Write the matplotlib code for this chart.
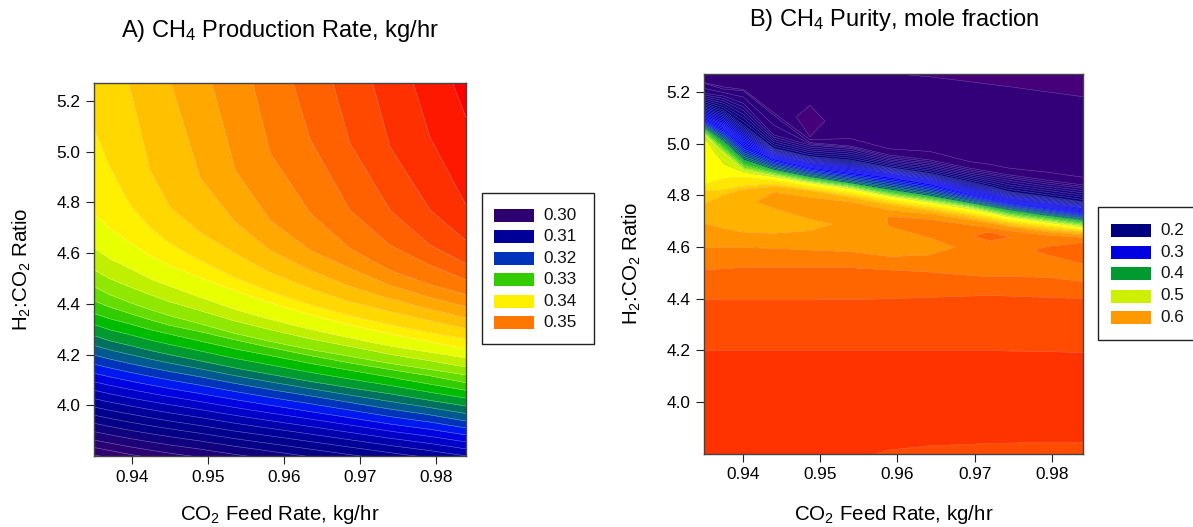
import matplotlib
matplotlib.use('Agg')
import matplotlib.pyplot as plt
from matplotlib.patches import Rectangle
import numpy as np

plt.rcParams['font.family'] = ['Liberation Sans', 'DejaVu Sans']
plt.rcParams['mathtext.default'] = 'regular'

W, H = 1193, 527

# Panel A: ratio where each rate level crosses a feed rate column
feed_a = [0.935, 0.9371, 0.9398, 0.9424, 0.945, 0.949, 0.9536, 0.9582, 0.9635, 0.9687, 0.974, 0.9793, 0.984]
rate_a = [.37, .36, .358, .356, .354, .352, .35, .348, .346, .344, .342, .34, .338, .336, .334, .332, .33,
          .326, .322, .318, .314, .31, .306, .302, .298, .295]
ratio_a = [
    [8.0] * 13,
    [7.021, 6.942, 6.863, 6.784, 6.705, 6.626, 6.468, 6.230, 6.072, 5.914, 5.756, 5.503, 5.132],
    [6.863, 6.784, 6.705, 6.626, 6.547, 6.468, 6.309, 6.072, 5.914, 5.756, 5.558, 5.053, 4.788],
    [6.705, 6.626, 6.547, 6.468, 6.388, 6.309, 6.151, 5.914, 5.756, 5.598, 5.017, 4.768, 4.649],
    [6.547, 6.468, 6.388, 6.309, 6.230, 6.151, 5.993, 5.756, 5.582, 5.033, 4.768, 4.630, 4.558],
    [6.388, 6.309, 6.230, 6.151, 6.072, 5.993, 5.835, 5.566, 5.045, 4.768, 4.630, 4.551, 4.495],
    [6.230, 6.151, 6.072, 5.993, 5.914, 5.796, 5.551, 4.993, 4.756, 4.618, 4.531, 4.475, 4.436],
    [6.072, 5.993, 5.914, 5.835, 5.717, 5.440, 4.926, 4.728, 4.610, 4.539, 4.472, 4.424, 4.388],
    [5.914, 5.796, 5.717, 5.543, 5.282, 4.894, 4.721, 4.610, 4.531, 4.468, 4.420, 4.377, 4.345],
    [5.756, 5.566, 5.242, 4.926, 4.780, 4.681, 4.598, 4.523, 4.460, 4.408, 4.369, 4.333, 4.302],
    [5.092, 4.938, 4.788, 4.701, 4.638, 4.570, 4.503, 4.448, 4.396, 4.353, 4.317, 4.286, 4.262],
    [4.756, 4.697, 4.641, 4.590, 4.551, 4.503, 4.452, 4.404, 4.357, 4.317, 4.282, 4.250, 4.222],
    [4.622, 4.578, 4.539, 4.499, 4.470, 4.426, 4.378, 4.339, 4.300, 4.266, 4.234, 4.209, 4.187],
    [4.535, 4.499, 4.466, 4.436, 4.408, 4.373, 4.332, 4.298, 4.262, 4.232, 4.201, 4.175, 4.151],
    [4.468, 4.436, 4.404, 4.377, 4.353, 4.321, 4.283, 4.252, 4.220, 4.193, 4.165, 4.141, 4.120],
    [4.412, 4.387, 4.361, 4.337, 4.315, 4.290, 4.258, 4.228, 4.196, 4.167, 4.141, 4.116, 4.089],
    [4.362, 4.341, 4.320, 4.298, 4.280, 4.253, 4.222, 4.196, 4.165, 4.138, 4.111, 4.083, 4.059],
    [4.274, 4.254, 4.235, 4.216, 4.199, 4.175, 4.147, 4.122, 4.094, 4.069, 4.045, 4.019, 3.997],
    [4.198, 4.182, 4.164, 4.148, 4.133, 4.112, 4.086, 4.062, 4.037, 4.011, 3.985, 3.962, 3.938],
    [4.126, 4.112, 4.095, 4.080, 4.066, 4.046, 4.022, 4.000, 3.975, 3.951, 3.926, 3.905, 3.883],
    [4.059, 4.045, 4.029, 4.015, 4.002, 3.983, 3.960, 3.939, 3.916, 3.893, 3.870, 3.849, 3.828],
    [3.993, 3.980, 3.965, 3.951, 3.938, 3.920, 3.898, 3.879, 3.857, 3.835, 3.813, 3.793, 3.773],
    [3.929, 3.916, 3.901, 3.888, 3.876, 3.859, 3.838, 3.819, 3.797, 3.776, 3.755, 3.735, 3.717],
    [3.863, 3.851, 3.836, 3.823, 3.811, 3.795, 3.774, 3.756, 3.736, 3.715, 3.694, 3.676, 3.657],
    [3.804, 3.792, 3.776, 3.764, 3.752, 3.736, 3.715, 3.697, 3.677, 3.656, 3.635, 3.617, 3.598],
    [3.55] * 13,
]
levels_a = np.arange(0.294, 0.3621, 0.002)
colors_a = ['#36006e', '#36006e', '#30006f', '#2b0073', '#1e0078', '#10007e', '#050085', '#00008c',
            '#000098', '#0000ad', '#0000c6', '#0000e0', '#0018f0', '#0033bb', '#005a90',
            '#007060', '#009a30', '#00bc00', '#33cc00', '#66dd00', '#90e800', '#c0f000',
            '#e8ff00', '#fff000', '#ffd800', '#ffc000', '#ffa800', '#ff9000', '#ff7800',
            '#ff6000', '#ff4800', '#ff3000', '#ff1800', '#ff0000']

# Panel B: purity read along curves, so the ratio changes with the column too
feed_b = [0.935, 0.9375, 0.9401, 0.944, 0.9487, 0.9539, 0.959, 0.9642, 0.9694, 0.972, 0.9745, 0.9793, 0.984]
ratio_b = [
    [5.27] * 13,
    [5.25, 5.25, 5.25, 5.25, 5.25, 5.25, 5.25, 5.259, 5.24, 5.23, 5.221, 5.201, 5.182],
    [5.24, 5.23, 5.22, 5.13, 5.088, 5.088, 5.0, 5.0, 4.95, 4.95, 4.93, 4.92, 4.90],
    [5.237, 5.22, 5.21, 5.12, 5.027, 5.02, 4.98, 4.97, 4.93, 4.92, 4.905, 4.89, 4.87],
    [5.234, 5.212, 5.205, 5.111, 5.004, 4.991, 4.956, 4.937, 4.905, 4.892, 4.879, 4.859, 4.840],
    [5.195, 5.185, 5.156, 5.034, 4.995, 4.982, 4.943, 4.924, 4.892, 4.879, 4.866, 4.844, 4.827],
    [5.156, 5.130, 5.072, 4.982, 4.950, 4.937, 4.908, 4.885, 4.853, 4.834, 4.814, 4.795, 4.775],
    [5.111, 5.079, 5.021, 4.956, 4.924, 4.905, 4.885, 4.859, 4.821, 4.805, 4.788, 4.769, 4.750],
    [5.089, 5.059, 4.995, 4.941, 4.908, 4.888, 4.870, 4.844, 4.805, 4.788, 4.773, 4.754, 4.733],
    [5.059, 5.008, 4.937, 4.898, 4.870, 4.846, 4.821, 4.797, 4.769, 4.755, 4.741, 4.720, 4.702],
    [5.034, 4.963, 4.898, 4.875, 4.849, 4.827, 4.797, 4.775, 4.750, 4.733, 4.717, 4.698, 4.679],
    [5.014, 4.917, 4.885, 4.868, 4.844, 4.821, 4.792, 4.769, 4.743, 4.728, 4.711, 4.692, 4.672],
    [4.840, 4.866, 4.870, 4.857, 4.834, 4.810, 4.782, 4.759, 4.733, 4.717, 4.702, 4.684, 4.666],
    [4.817, 4.821, 4.836, 4.844, 4.823, 4.801, 4.772, 4.750, 4.724, 4.710, 4.694, 4.676, 4.661],
    [4.766, 4.801, 4.823, 4.834, 4.818, 4.792, 4.763, 4.741, 4.715, 4.699, 4.685, 4.666, 4.655],
    [4.750, 4.775, 4.818, 4.812, 4.792, 4.775, 4.743, 4.728, 4.705, 4.692, 4.679, 4.659, 4.646],
    [4.730, 4.743, 4.775, 4.775, 4.766, 4.750, 4.717, 4.707, 4.685, 4.675, 4.663, 4.646, 4.637],
    [4.717, 4.724, 4.743, 4.750, 4.707, 4.717, 4.704, 4.694, 4.672, 4.663, 4.655, 4.640, 4.634],
    [4.704, 4.698, 4.692, 4.698, 4.685, 4.692, 4.692, 4.681, 4.659, 4.653, 4.646, 4.634, 4.627],
    [4.692, 4.672, 4.657, 4.653, 4.663, 4.666, 4.679, 4.666, 4.640, 4.643, 4.637, 4.621, 4.618],
    [4.646, 4.634, 4.627, 4.621, 4.627, 4.627, 4.614, 4.604, 4.595, 4.595, 4.588, 4.586, 4.578],
    [4.599, 4.599, 4.597, 4.595, 4.588, 4.582, 4.563, 4.569, 4.560, 4.556, 4.552, 4.550, 4.534],
    [4.511, 4.516, 4.521, 4.521, 4.521, 4.520, 4.511, 4.503, 4.490, 4.485, 4.485, 4.483, 4.466],
    [4.397, 4.395, 4.395, 4.395, 4.395, 4.396, 4.400, 4.405, 4.410, 4.412, 4.410, 4.405, 4.400],
    [4.199, 4.199, 4.199, 4.199, 4.199, 4.199, 4.199, 4.199, 4.199, 4.199, 4.197, 4.195, 4.191],
    [3.88] * 13,
    [3.80] * 13,
]
purity_b = [
    [.105, .105, .105, .105, .105, .105, .1005, .098, .095, .094, .094, .093, .092],
    [.105, .105, .105, .105, .1025, .105, .103, .10, .10, .10, .10, .10, .10],
    [.108, .108, .108, .1025, .0985, .1025, .105, .11, .11, .11, .11, .11, .11],
    [.11, .11, .11, .11, .10, .11, .11, .11, .11, .11, .11, .11, .11],
    [.12] * 13,
    [.14] * 13,
    [.20] * 13,
    [.28] * 13,
    [.32] * 13,
    [.40] * 13,
    [.50] * 13,
    [.52] * 13,
    [.54] * 13,
    [.56] * 13,
    [.58] * 13,
    [.585, .59, .60, .60, .60, .60, .60, .60, .60, .60, .60, .60, .60],
    [.59, .592, .594, .608, .606, .606, .621, .62, .62, .62, .62, .62, .62],
    [.592, .592, .592, .60, .60, .606, .621, .624, .626, .635, .628, .622, .624],
    [.596, .595, .59, .59, .594, .605, .621, .626, .632, .643, .636, .623, .632],
    [.60, .60, .60, .60, .60, .606, .62, .628, .638, .65, .64, .63, .64],
    [.605, .606, .606, .606, .606, .608, .606, .612, .625, .625, .625, .648, .655],
    [.62, .62, .62, .62, .62, .62, .62, .62, .625, .625, .625, .63, .64],
    [.64] * 13,
    [.66] * 13,
    [.68] * 13,
    [.688, .688, .688, .688, .688, .688, .685, .685, .685, .685, .685, .685, .685],
    [.686, .686, .685, .684, .683, .682, .679, .677, .676, .675, .675, .674, .674],
]
levels_b = np.arange(0.08, 0.7001, 0.02)
# the ribbon in the reference has a line about every 0.01
lines_b = np.concatenate([np.arange(0.10, 0.52, 0.01), np.arange(0.52, 0.7001, 0.02)])
colors_b = ['#46007a', '#33007a', '#2a007c', '#200080', '#150080', '#0a0080', '#000080',
            '#00009a', '#0000b0', '#0000c8', '#0000e0', '#0000e8', '#0000ff', '#0020d0',
            '#0040a0', '#006070', '#009a30', '#00b000', '#22c800', '#55d800', '#90e400',
            '#ccf000', '#ffff00', '#ffe600', '#ffcc00', '#ffb300', '#ff9900', '#ff7f00',
            '#ff6600', '#ff4c00', '#ff3300']

legend_a_labels = ['0.30', '0.31', '0.32', '0.33', '0.34', '0.35']
legend_a_colors = ['#2d0070', '#000099', '#0033bb', '#33cc00', '#fff000', '#ff7700']
legend_b_labels = ['0.2', '0.3', '0.4', '0.5', '0.6']
legend_b_colors = ['#000080', '#0000e0', '#009a30', '#ccf000', '#ff9900']


def px_axes(left, top, right, bottom):
    return fig.add_axes([left / W, 1 - bottom / H, (right - left) / W, (bottom - top) / H])


def style_axes(ax, ylim):
    ax.set_xlim(0.935, 0.984)
    ax.set_ylim(*ylim)
    ax.set_xticks([0.94, 0.95, 0.96, 0.97, 0.98])
    ax.set_xticklabels(['0.94', '0.95', '0.96', '0.97', '0.98'])
    ax.set_yticks([4.0, 4.2, 4.4, 4.6, 4.8, 5.0, 5.2])
    ax.set_yticklabels(['4.0', '4.2', '4.4', '4.6', '4.8', '5.0', '5.2'])
    ax.tick_params(length=5.8, width=0.8, labelsize=12.4, pad=4, color='#222222')
    for s in ax.spines.values():
        s.set_linewidth(1.0)
        s.set_color('#444444')


def legend_box(left, top, right, bottom, centers, swatch_left, text_left, labels, cols):
    fig.add_artist(Rectangle((left / W, 1 - bottom / H), (right - left) / W, (bottom - top) / H,
                             transform=fig.transFigure, facecolor='white', edgecolor='#222222', linewidth=1))
    for c, lab, col in zip(centers, labels, cols):
        fig.add_artist(Rectangle((swatch_left / W, 1 - (c + 6.5) / H), 40 / W, 13 / H,
                                 transform=fig.transFigure, facecolor=col, edgecolor='none'))
        fig.text(text_left / W, 1 - c / H, lab, fontsize=12.3, va='center', ha='left', color='#111111')


fig = plt.figure(figsize=(W / 100, H / 100), dpi=100)

x_a = np.tile(feed_a, (len(ratio_a), 1))
y_a = np.array(ratio_a)
z_a = np.tile(np.array(rate_a)[:, None], (1, len(feed_a)))
ax1 = px_axes(94, 83, 466, 456)
ax1.contourf(x_a, y_a, z_a, levels=levels_a, colors=colors_a)
ax1.contour(x_a, y_a, z_a, levels=levels_a, colors='white', linewidths=0.35, alpha=0.5)
style_axes(ax1, (3.80, 5.27))

x_b = np.tile(feed_b, (len(ratio_b), 1))
y_b = np.array(ratio_b)
z_b = np.array(purity_b)
ax2 = px_axes(704, 74, 1083, 453.5)
ax2.contourf(x_b, y_b, z_b, levels=levels_b, colors=colors_b)
ax2.contour(x_b, y_b, z_b, levels=lines_b, colors='white', linewidths=0.3, alpha=0.4)
style_axes(ax2, (3.80, 5.27))

fig.text(280 / W, 1 - 31 / H, 'A) CH$_4$ Production Rate, kg/hr', fontsize=17, ha='center', va='center')
fig.text(894 / W, 1 - 20 / H, 'B) CH$_4$ Purity, mole fraction', fontsize=17, ha='center', va='center')
fig.text(280 / W, 1 - 515 / H, 'CO$_2$ Feed Rate, kg/hr', fontsize=14.8, ha='center', va='center')
fig.text(894 / W, 1 - 515 / H, 'CO$_2$ Feed Rate, kg/hr', fontsize=14.8, ha='center', va='center')
fig.text(22 / W, 1 - 269 / H, 'H$_2$:CO$_2$ Ratio', fontsize=14.8, rotation=90, ha='center', va='center')
fig.text(632 / W, 1 - 263 / H, 'H$_2$:CO$_2$ Ratio', fontsize=14.8, rotation=90, ha='center', va='center')

legend_box(482, 193, 594, 344, [215.3, 236.7, 258.3, 279.3, 301.3, 322.3], 494, 543.7,
           legend_a_labels, legend_a_colors)
legend_box(1098, 207, 1210, 340, [230, 252.3, 273.3, 296, 317.3], 1111, 1160.7,
           legend_b_labels, legend_b_colors)

fig.savefig('out.png', dpi=100)
